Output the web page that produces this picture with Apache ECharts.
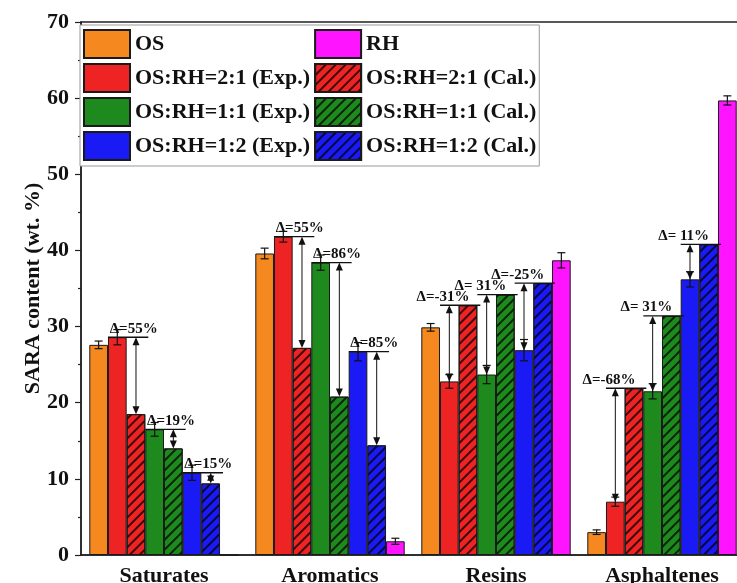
<!DOCTYPE html>
<html>
<head>
<meta charset="utf-8">
<script src="https://cdn.jsdelivr.net/npm/echarts@6/dist/echarts.min.js"></script>
<style>
html,body{margin:0;padding:0;background:#fff;}
#chart{width:737px;height:583px;}
</style>
</head>
<body>
<div id="chart"></div>
<script>
// ---- data ----
const categories = ['Saturates', 'Aromatics', 'Resins', 'Asphaltenes'];
const yTicks = [0, 10, 20, 30, 40, 50, 60, 70];

const osVals    = [27.6, 39.6, 29.9, 3.0];
const exp21Vals = [28.6, 41.8, 22.8, 7.0];
const cal21Vals = [18.5, 27.2, 32.8, 21.9];
const exp11Vals = [16.5, 38.4, 23.7, 21.5];
const cal11Vals = [14.0, 20.8, 34.2, 31.4];
const exp12Vals = [10.8, 26.7, 26.9, 36.2];
const cal12Vals = [9.4, 14.4, 35.7, 40.8];
const rhVals    = [0, 1.8, 38.7, 59.7];

const osErr    = [0.5, 0.7, 0.5, 0.3];
const exp21Err = [1.0, 0.7, 0.9, 0.6];
const exp11Err = [0.9, 1.0, 1.2, 1.0];
const exp12Err = [1.0, 1.2, 1.4, 1.0];
const rhErr    = [0, 0.4, 1.0, 0.6];

const delta21Labels = ['Δ=55%', 'Δ=55%', 'Δ=-31%', 'Δ=-68%'];
const delta11Labels = ['Δ=19%', 'Δ=86%', 'Δ= 31%', 'Δ= 31%'];
const delta12Labels = ['Δ=15%', 'Δ=85%', 'Δ=-25%', 'Δ= 11%'];

// ---- styling ----
const FONT = '"Liberation Serif", "Times New Roman", serif';
const NBARS = 8;
const CATGAP = 0.10;
function hatch() {
  return { symbol: 'rect', symbolSize: 1, dashArrayX: [1, 0], dashArrayY: [1.4, 5], rotation: -Math.PI / 4, color: 'rgba(0,0,0,0.75)' };
}
const seriesDefs = [
  { name: 'OS', vals: osVals, color: '#F5891F', hatched: false },
  { name: 'OS:RH=2:1 (Exp.)', vals: exp21Vals, color: '#EE2424', hatched: false },
  { name: 'OS:RH=2:1 (Cal.)', vals: cal21Vals, color: '#EE2424', hatched: true },
  { name: 'OS:RH=1:1 (Exp.)', vals: exp11Vals, color: '#1E8A1E', hatched: false },
  { name: 'OS:RH=1:1 (Cal.)', vals: cal11Vals, color: '#1E8A1E', hatched: true },
  { name: 'OS:RH=1:2 (Exp.)', vals: exp12Vals, color: '#1A1AF5', hatched: false },
  { name: 'OS:RH=1:2 (Cal.)', vals: cal12Vals, color: '#1A1AF5', hatched: true },
  { name: 'RH', vals: rhVals, color: '#FF14FF', hatched: false }
];

const barSeries = seriesDefs.map(d => ({
  name: d.name,
  type: 'bar',
  barGap: '0%',
  barCategoryGap: (CATGAP * 100) + '%',
  data: d.vals,
  z: 2,
  itemStyle: Object.assign({ color: d.color, borderColor: '#1a1a1a', borderWidth: 1 }, d.hatched ? { decal: hatch() } : {}),
  emphasis: { disabled: true }
}));

// error bar data: [cat, value, err, barIndex]
const errSets = [[osVals, osErr, 0], [exp21Vals, exp21Err, 1], [exp11Vals, exp11Err, 3], [exp12Vals, exp12Err, 5], [rhVals, rhErr, 7]];
const errData = [];
errSets.forEach(([v, e, bi]) => v.forEach((val, i) => { if (e[i] > 0) errData.push([i, val, e[i], bi]); }));

// annotation data: [cat, exp, cal, expBarIndex, labelIndex]
const annoSets = [[exp21Vals, cal21Vals, 1, delta21Labels], [exp11Vals, cal11Vals, 3, delta11Labels], [exp12Vals, cal12Vals, 5, delta12Labels]];
const annoData = [];
const annoText = [];
annoSets.forEach(([e, c, bi, labels]) => e.forEach((ev, i) => { annoText.push(labels[i]); annoData.push([i, ev, c[i], bi, annoText.length - 1]); }));

function barGeom(api, cat, bi) {
  const c = api.coord([cat, 0]);
  const band = api.size([1, 0])[0];
  const bw = band * (1 - CATGAP) / NBARS;
  const left = c[0] - band * (1 - CATGAP) / 2 + bi * bw;
  return { left, bw };
}

const errSeries = {
  type: 'custom',
  z: 5,
  data: errData,
  encode: { x: 0, y: 1 },
  renderItem: function (params, api) {
    const cat = api.value(0), v = api.value(1), e = api.value(2), bi = api.value(3);
    const g = barGeom(api, cat, bi);
    const x = g.left + g.bw / 2;
    const yT = api.coord([cat, v + e])[1];
    const yB = api.coord([cat, v - e])[1];
    const st = { stroke: '#111', lineWidth: 1.2 };
    return { type: 'group', children: [
      { type: 'line', shape: { x1: x, y1: yT, x2: x, y2: yB }, style: st },
      { type: 'line', shape: { x1: x - 4, y1: yT, x2: x + 4, y2: yT }, style: st },
      { type: 'line', shape: { x1: x - 4, y1: yB, x2: x + 4, y2: yB }, style: st }
    ] };
  }
};

const annoSeries = {
  type: 'custom',
  z: 6,
  data: annoData,
  encode: { x: 0, y: 1 },
  clip: false,
  renderItem: function (params, api) {
    const cat = api.value(0), ev = api.value(1), cv = api.value(2), bi = api.value(3), li = api.value(4);
    const ge = barGeom(api, cat, bi);
    const hi = Math.max(ev, cv), lo = Math.min(ev, cv);
    const yH = api.coord([cat, hi])[1];
    const yL = api.coord([cat, lo])[1];
    const lowerIsCal = cv < ev;
    const ax = lowerIsCal ? ge.left + ge.bw * 1.5 : ge.left + ge.bw * 0.5;
    const st = { stroke: '#111', lineWidth: 1.3 };
    const ah = 8, aw = 3.5;
    const lx = lowerIsCal ? ge.left + ge.bw + 7 : ge.left + 3;
    return { type: 'group', children: [
      { type: 'line', shape: { x1: ge.left, y1: yH, x2: ge.left + 2 * ge.bw + 3, y2: yH }, style: st },
      { type: 'line', shape: { x1: ax, y1: yH + 2, x2: ax, y2: yL - 2 }, style: { stroke: '#111', lineWidth: 1 } },
      { type: 'polygon', shape: { points: [[ax, yH], [ax - aw, yH + ah], [ax + aw, yH + ah]] }, style: { fill: '#111' } },
      { type: 'polygon', shape: { points: [[ax, yL], [ax - aw, yL - ah], [ax + aw, yL - ah]] }, style: { fill: '#111' } },
      { type: 'text', x: lx, y: yH - 1, style: { text: annoText[li], fill: '#111', font: 'bold 15px ' + FONT, textAlign: 'center', textVerticalAlign: 'bottom' } }
    ] };
  }
};

const chart = echarts.init(document.getElementById('chart'), null, { renderer: 'canvas' });
chart.setOption({
  animation: false,
  backgroundColor: '#fff',
  grid: { left: 81, top: 22, width: 664, bottom: 28, outerBoundsMode: 'none', containLabel: false, show: true, borderColor: '#222', borderWidth: 1.5, backgroundColor: 'transparent' },
  legend: {
    data: ['OS', 'OS:RH=2:1 (Exp.)', 'OS:RH=1:1 (Exp.)', 'OS:RH=1:2 (Exp.)', 'RH', 'OS:RH=2:1 (Cal.)', 'OS:RH=1:1 (Cal.)', 'OS:RH=1:2 (Cal.)'],
    orient: 'vertical',
    left: 80, top: 25, height: 145,
    itemWidth: 46, itemHeight: 28, itemGap: 4,
    icon: 'rect',
    padding: [4, 3, 5, 3],
    borderColor: '#999', borderWidth: 1, backgroundColor: '#fff',
    selectedMode: false,
    textStyle: { fontFamily: FONT, fontWeight: 'bold', fontSize: 22, color: '#111' }
  },
  xAxis: [
    {
      type: 'category', data: categories,
      axisLine: { lineStyle: { color: '#222', width: 1.5 } },
      axisTick: { alignWithLabel: true, length: 6, lineStyle: { color: '#222', width: 1.2 } },
      axisLabel: { fontFamily: FONT, fontWeight: 'bold', fontSize: 22, color: '#111', margin: 10 }
    },
    {
      type: 'category', data: categories, position: 'bottom',
      axisLine: { show: false },
      axisTick: { length: 3, lineStyle: { color: '#222', width: 1.2 } },
      axisLabel: { show: false }, splitLine: { show: false }
    }
  ],
  yAxis: {
    type: 'value', min: yTicks[0], max: yTicks[yTicks.length - 1], interval: yTicks[1] - yTicks[0],
    name: 'SARA content (wt. %)', nameLocation: 'middle', nameGap: 37, nameMoveOverlap: false,
    nameTextStyle: { fontFamily: FONT, fontWeight: 'bold', fontSize: 22, color: '#111' },
    axisLine: { show: true, lineStyle: { color: '#222', width: 1.5 } },
    axisTick: { show: true, length: 6, lineStyle: { color: '#222', width: 1.2 } },
    minorTick: { show: true, splitNumber: 2, length: 3, lineStyle: { color: '#222', width: 1.2 } },
    splitLine: { show: false },
    axisLabel: { fontFamily: FONT, fontWeight: 'bold', fontSize: 22, color: '#111', margin: 12 }
  },
  series: barSeries.concat([errSeries, annoSeries])
});
</script>
</body>
</html>
